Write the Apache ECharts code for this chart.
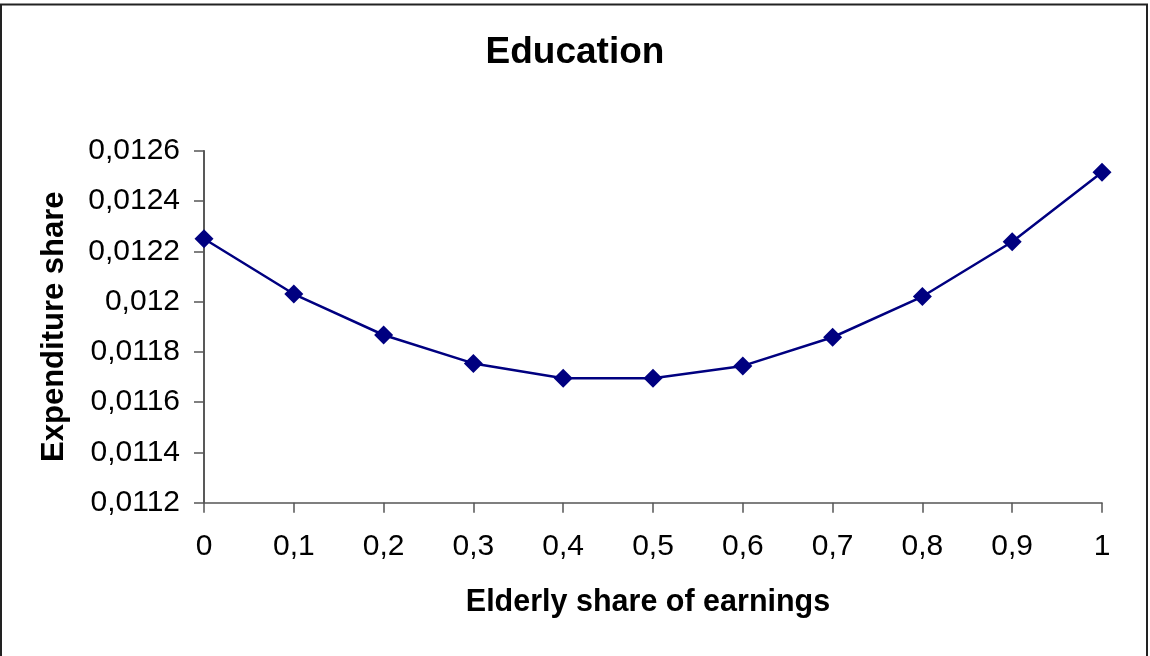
<!DOCTYPE html>
<html>
<head>
<meta charset="utf-8">
<script src="https://cdn.jsdelivr.net/npm/echarts@6/dist/echarts.min.js"></script>
<style>
html,body{margin:0;padding:0;background:#fff;}
#chart{width:1150px;height:656px;}
</style>
</head>
<body>
<div id="chart"></div>
<script>
const categories = ['0','0,1','0,2','0,3','0,4','0,5','0,6','0,7','0,8','0,9','1'];
const expenditureShare = [0.01225, 0.01203, 0.011867, 0.011754, 0.011695, 0.011695, 0.011744, 0.011858, 0.01202, 0.012238, 0.012514];
const yMin = 0.0112, yMax = 0.0126, yStep = 0.0002;

const chart = echarts.init(document.getElementById('chart'));
const fontFamily = '"Liberation Sans", Arial, sans-serif';
chart.setOption({
  animation: false,
  backgroundColor: '#fff',
  title: {
    text: 'Education',
    left: 'center',
    top: 29,
    textStyle: {fontFamily, fontSize: 37, fontWeight: 'bold', color: '#000'}
  },
  graphic: [{
    type: 'rect',
    shape: {x: 1, y: 4.5, width: 1146, height: 700},
    style: {fill: 'none', stroke: '#222', lineWidth: 2},
    silent: true
  }],
  grid: {left: 204, right: 48, top: 150.7, bottom: 153.3},
  xAxis: {
    type: 'category',
    data: categories,
    boundaryGap: false,
    name: 'Elderly share of earnings',
    nameLocation: 'middle',
    nameGap: 84,
    nameTextStyle: {fontFamily, fontSize: 30.5, fontWeight: 'bold', color: '#000', padding: [0, 10, 0, 0]},
    axisLine: {lineStyle: {color: '#555', width: 1.5}},
    axisTick: {alignWithLabel: true, length: 10, lineStyle: {color: '#555', width: 1.5}},
    axisLabel: {fontFamily, fontSize: 30, color: '#000', margin: 29},
    splitLine: {show: false}
  },
  yAxis: {
    type: 'value',
    min: yMin, max: yMax, interval: yStep,
    name: 'Expenditure share',
    nameLocation: 'middle',
    nameGap: 134,
    nameTextStyle: {fontFamily, fontSize: 31, fontWeight: 'bold', color: '#000'},
    axisLine: {show: true, lineStyle: {color: '#222', width: 1.5}},
    axisTick: {show: true, length: 10, lineStyle: {color: '#555', width: 1.5}},
    axisLabel: {
      fontFamily, fontSize: 30, color: '#000', margin: 24,
      formatter: v => String(parseFloat(v.toFixed(4))).replace('.', ',')
    },
    splitLine: {show: false}
  },
  series: [{
    type: 'line',
    data: expenditureShare,
    symbol: 'diamond',
    symbolSize: 19,
    lineStyle: {color: '#000080', width: 2.5},
    itemStyle: {color: '#000080'}
  }]
});
</script>
</body>
</html>
